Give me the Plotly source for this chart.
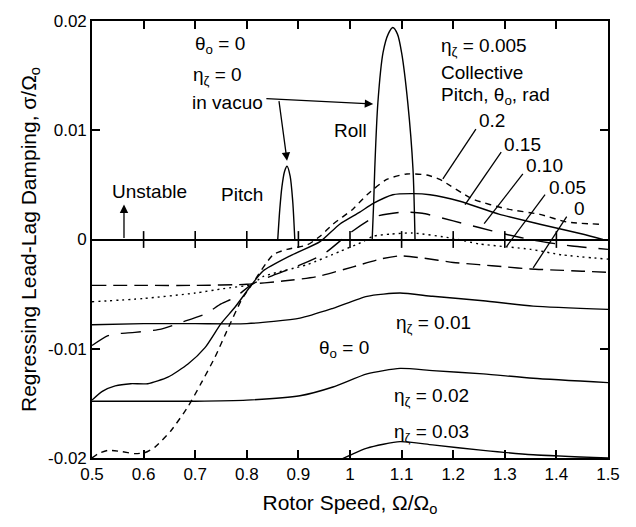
import plotly.graph_objects as go

# ---------------- data ----------------
x_tick_vals = [0.5, 0.6, 0.7, 0.8, 0.9, 1.0, 1.1, 1.2, 1.3, 1.4, 1.5]
x_tick_text = ["0.5", "0.6", "0.7", "0.8", "0.9", "1", "1.1", "1.2", "1.3", "1.4", "1.5"]
y_tick_vals = [-0.02, -0.01, 0, 0.01, 0.02]
y_tick_text = ["-0.02", "-0.01", "0", "0.01", "0.02"]
zero_tick_x = [0.6, 0.7, 0.8, 0.9, 1.0, 1.1, 1.2, 1.3, 1.4]

# in vacuo (theta=0, eta=0) peaks
pitch_x = [0.860, 0.864, 0.868, 0.873, 0.878, 0.884, 0.889, 0.893]
pitch_y = [0.0, 0.0028, 0.0048, 0.0062, 0.0067, 0.0058, 0.0035, 0.0]
roll_x = [1.043, 1.046, 1.048, 1.054, 1.064, 1.074, 1.083, 1.092, 1.100, 1.112, 1.122, 1.126]
roll_y = [0.0, 0.0035, 0.0065, 0.0125, 0.0171, 0.0188, 0.0194, 0.0188, 0.0171, 0.0125, 0.0065, 0.0]

# eta = 0.005, collective pitch family
th0_x = [0.5, 0.6, 0.7, 0.8, 0.87, 0.936, 1.006, 1.058, 1.097, 1.141, 1.2, 1.25, 1.3, 1.35, 1.4, 1.45, 1.5]
th0_y = [-0.0042, -0.0042, -0.0042, -0.0041, -0.0038, -0.0034, -0.0025, -0.0018, -0.0015, -0.0017, -0.0021, -0.0023, -0.0025, -0.0027, -0.0028, -0.0029, -0.0030]

th005_x = [0.5, 0.6, 0.7, 0.754, 0.81, 0.831, 0.917, 0.98, 1.025, 1.045, 1.08, 1.12, 1.2, 1.25, 1.35, 1.41, 1.5]
th005_y = [-0.0057, -0.0054, -0.0049, -0.0045, -0.0041, -0.0034, -0.0023, -0.0011, -0.0002, 0.0003, 0.0005, 0.0006, 0.0001, -0.0004, -0.0009, -0.0014, -0.0018]

th010_x = [0.5, 0.531, 0.554, 0.583, 0.634, 0.672, 0.72, 0.75, 0.777, 0.81, 0.85, 0.9, 0.95, 1.0, 1.05, 1.1, 1.14, 1.2, 1.25, 1.3, 1.36, 1.43, 1.5]
th010_y = [-0.0097, -0.0088, -0.0086, -0.0085, -0.0082, -0.0076, -0.0068, -0.0059, -0.0053, -0.0041, -0.0033, -0.0024, -0.0013, 0.0006, 0.0021, 0.0025, 0.0024, 0.0017, 0.0011, 0.0005, -0.0001, -0.0006, -0.0009]

th015_x = [0.5, 0.52, 0.545, 0.575, 0.608, 0.647, 0.686, 0.719, 0.75, 0.777, 0.81, 0.831, 0.884, 0.942, 0.98, 1.019, 1.045, 1.083, 1.122, 1.155, 1.213, 1.29, 1.368, 1.45, 1.49]
th015_y = [-0.0147, -0.0139, -0.0134, -0.0132, -0.0132, -0.0126, -0.0114, -0.0099, -0.0077, -0.0062, -0.0041, -0.0029, -0.0015, -0.0002, 0.0014, 0.0025, 0.0033, 0.0041, 0.0042, 0.0041, 0.0035, 0.0023, 0.0014, 0.0005, 0.0]

th02_x = [0.5, 0.512, 0.531, 0.556, 0.583, 0.603, 0.622, 0.653, 0.686, 0.711, 0.738, 0.764, 0.789, 0.81, 0.851, 0.878, 0.917, 0.942, 0.967, 1.006, 1.033, 1.071, 1.11, 1.149, 1.174, 1.238, 1.304, 1.368, 1.42, 1.484]
th02_y = [-0.0200, -0.0196, -0.0193, -0.0194, -0.0196, -0.0195, -0.0190, -0.0175, -0.0153, -0.0132, -0.0108, -0.0081, -0.0056, -0.0041, -0.0014, -0.0009, -0.0005, 0.0003, 0.0014, 0.0028, 0.0041, 0.0055, 0.0060, 0.0059, 0.0055, 0.0037, 0.0028, 0.0023, 0.0016, 0.0014]

# theta = 0, higher structural damping
eta001_x = [0.5, 0.6, 0.7, 0.8, 0.903, 0.967, 1.033, 1.097, 1.16, 1.258, 1.355, 1.5]
eta001_y = [-0.0078, -0.0077, -0.0077, -0.0077, -0.0072, -0.0063, -0.0052, -0.0049, -0.0052, -0.0056, -0.0061, -0.0064]
eta002_x = [0.5, 0.6, 0.7, 0.8, 0.903, 0.967, 1.033, 1.097, 1.16, 1.258, 1.355, 1.5]
eta002_y = [-0.0148, -0.0148, -0.0148, -0.0147, -0.0143, -0.0135, -0.0123, -0.0118, -0.0120, -0.0123, -0.0127, -0.0131]
eta003_x = [0.94, 0.98, 1.033, 1.097, 1.16, 1.258, 1.355, 1.5]
eta003_y = [-0.0215, -0.0202, -0.0191, -0.0185, -0.0188, -0.0193, -0.0197, -0.0200]

# leader lines from the collective-pitch labels (tail -> curve)
leader_x0 = [1.244, 1.293, 1.335, 1.378, 1.420]
leader_y0 = [0.0101, 0.0080, 0.0060, 0.0041, 0.0021]
leader_x1 = [1.180, 1.223, 1.260, 1.304, 1.355]
leader_y1 = [0.00555, 0.0032, 0.00145, -0.0006, -0.0026]

# ---------------- figure ----------------
FONT = "Liberation Sans, Arial, Helvetica, sans-serif"
INK = "black"
fig = go.Figure()

def add_line(xs, ys, dash="solid", width=1.4, smoothing=0.6):
    fig.add_trace(go.Scatter(x=xs, y=ys, mode="lines",
                             line=dict(color=INK, width=width, dash=dash, shape="spline", smoothing=smoothing),
                             showlegend=False))

add_line(pitch_x, pitch_y, smoothing=0.8)
add_line(roll_x, roll_y, smoothing=0.8)
add_line(th0_x, th0_y, dash="14px,7px")
add_line(th005_x, th005_y, dash="2px,4px")
add_line(th010_x, th010_y, dash="20px,12px")
add_line(th015_x, th015_y)
add_line(th02_x, th02_y, dash="6px,5px")
add_line(eta001_x, eta001_y)
add_line(eta002_x, eta002_y)
add_line(eta003_x, eta003_y)

# tick marks crossing the zero line
fig.add_trace(go.Scatter(x=zero_tick_x, y=[0] * len(zero_tick_x), mode="markers",
                         marker=dict(symbol="line-ns", size=12, color=INK, line=dict(color=INK, width=1.6)),
                         showlegend=False))

# leader lines
for x0, y0, x1, y1 in zip(leader_x0, leader_y0, leader_x1, leader_y1):
    fig.add_shape(type="line", xref="x", yref="y", x0=x0, y0=y0, x1=x1, y1=y1,
                  line=dict(color=INK, width=1.3))

def text(x, y, t, xanchor="center", size=19):
    fig.add_annotation(x=x, y=y, xref="x", yref="y", text=t, showarrow=False,
                       xanchor=xanchor, yanchor="middle", font=dict(family=FONT, size=size, color=INK))

def arrow(x, y, ax, ay):
    fig.add_annotation(x=x, y=y, ax=ax, ay=ay, xref="x", yref="y", axref="x", ayref="y",
                       text="", showarrow=True, arrowhead=2, arrowsize=1.3, arrowwidth=1.3,
                       arrowcolor=INK)

text(0.748, 0.0178, "θ<sub>o</sub> = 0")
text(0.744, 0.0150, "η<sub>ζ</sub> = 0")
text(0.762, 0.0125, "in vacuo")
text(0.790, 0.0041, "Pitch")
text(0.612, 0.0044, "Unstable")
text(1.000, 0.0100, "Roll")
text(1.172, 0.0176, "η<sub>ζ</sub> = 0.005", xanchor="left")
text(1.172, 0.0153, "Collective", xanchor="left")
text(1.172, 0.0131, "Pitch, θ<sub>o</sub>, rad", xanchor="left")
text(1.246, 0.0109, "0.2", xanchor="left")
text(1.295, 0.0087, "0.15", xanchor="left")
text(1.337, 0.0068, "0.10", xanchor="left")
text(1.381, 0.0048, "0.05", xanchor="left")
text(1.430, 0.0028, "0", xanchor="left")
text(1.085, -0.0077, "η<sub>ζ</sub> = 0.01", xanchor="left")
text(0.936, -0.0100, "θ<sub>o</sub> = 0", xanchor="left")
text(1.082, -0.0144, "η<sub>ζ</sub> = 0.02", xanchor="left")
text(1.082, -0.0177, "η<sub>ζ</sub> = 0.03", xanchor="left")

arrow(1.045, 0.0124, 0.835, 0.0129)   # in vacuo -> roll
arrow(0.878, 0.0072, 0.862, 0.0128)   # in vacuo -> pitch
arrow(0.562, 0.0032, 0.562, 0.0)      # unstable

fig.update_layout(width=636, height=527, margin=dict(l=92, r=28, t=17, b=69),
                  paper_bgcolor="white", plot_bgcolor="white", font=dict(family=FONT),
                  showlegend=False)
fig.update_xaxes(range=[0.5, 1.5], tickvals=x_tick_vals, ticktext=x_tick_text,
                 ticks="inside", ticklen=8, tickwidth=1.6, tickcolor="black",
                 showline=True, linecolor="black", linewidth=1.6, mirror="allticks",
                 showgrid=False, zeroline=False, tickfont=dict(family=FONT, size=17, color="black"),
                 title=dict(text="Rotor Speed, Ω/Ω<sub>o</sub>", font=dict(family=FONT, size=21, color="black"),
                            standoff=12))
fig.update_yaxes(range=[-0.02, 0.02], tickvals=y_tick_vals, ticktext=y_tick_text,
                 ticks="inside", ticklen=8, tickwidth=1.6, tickcolor="black",
                 showline=True, linecolor="black", linewidth=1.6, mirror="allticks",
                 showgrid=False, zeroline=True, zerolinecolor="black", zerolinewidth=1.6,
                 tickfont=dict(family=FONT, size=17, color="black"),
                 title=dict(text="Regressing Lead-Lag Damping, σ/Ω<sub>o</sub>",
                            font=dict(family=FONT, size=21, color="black"), standoff=6))

fig.write_html("out.html")
